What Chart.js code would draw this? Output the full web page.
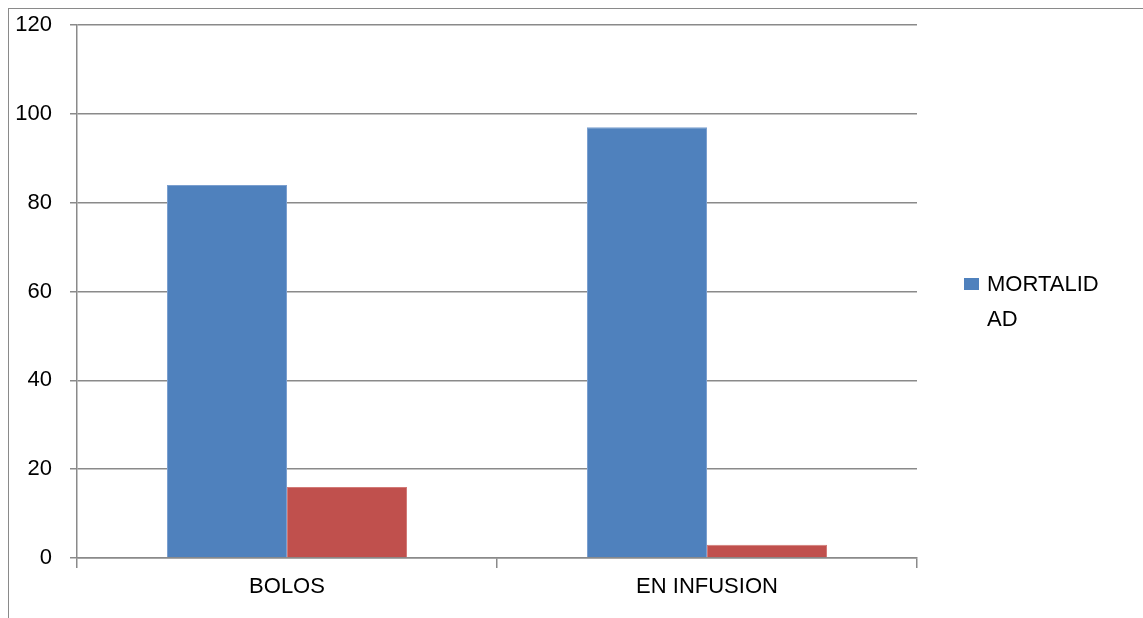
<!DOCTYPE html>
<html lang="es">
  <head>
    <meta charset="UTF-8" />
    <title>Mortalidad</title>
    <script src="https://cdn.jsdelivr.net/npm/chart.js@4.4.1/dist/chart.umd.min.js"></script>
    <style>
      body {
        margin: 0;
        background: #ffffff;
        font-family: "Liberation Sans", Arial, sans-serif;
      }
      #wrap {
        position: relative;
        width: 1143px;
        height: 618px;
        overflow: hidden;
      }
      #frame {
        position: absolute;
        left: 8px;
        top: 8px;
        right: 0;
        bottom: 0;
        border-top: 1.5px solid #8a8a8a;
        border-left: 1.5px solid #8a8a8a;
      }
      canvas {
        position: absolute;
        left: 0;
        top: 0;
      }
      #legend {
        position: absolute;
        left: 964px;
        top: 266px;
        font-size: 22px;
        line-height: 35px;
        color: #000;
      }
      #legend .key {
        position: absolute;
        left: 0;
        top: 12px;
        width: 15px;
        height: 12px;
        background: #4f81bd;
      }
      #legend .txt {
        position: absolute;
        left: 23px;
        top: 0;
        width: 1px;
      }
    </style>
  </head>
  <body>
    <div id="wrap">
      <div id="frame"></div>
      <canvas id="chart" width="1143" height="618"></canvas>
      <div id="legend">
        <span class="key"></span>
        <span class="txt">MORTALID<wbr>AD</span>
      </div>
    </div>

    <script>
      const categories = ["BOLOS", "EN INFUSION"];
      const mortalidad = [84, 97];
      const otros = [16, 3];
      const yTicks = [0, 20, 40, 60, 80, 100, 120];

      const gridColor = "#8a8a8a";
      const font = { family: "'Liberation Sans', Arial, sans-serif", size: 22 };

      const ctx = document.getElementById("chart").getContext("2d");
      new Chart(ctx, {
        type: "bar",
        data: {
          labels: categories,
          datasets: [
            {
              label: "MORTALIDAD",
              data: mortalidad,
              backgroundColor: "#4f81bd",
              borderColor: "#7b9fcf",
              borderWidth: 1,
              categoryPercentage: 240 / 420,
              barPercentage: 1,
            },
            {
              label: "",
              data: otros,
              backgroundColor: "#c0504d",
              borderColor: "#d27a77",
              borderWidth: 1,
              categoryPercentage: 240 / 420,
              barPercentage: 1,
            },
          ],
        },
        options: {
          responsive: false,
          animation: false,
          layout: {
            padding: { left: 0, top: 25, right: 226, bottom: 0 },
          },
          plugins: {
            legend: { display: false },
            tooltip: { enabled: false },
          },
          scales: {
            x: {
              grid: {
                offset: true,
                drawOnChartArea: false,
                tickLength: 10,
                color: gridColor,
                lineWidth: 1.5,
              },
              border: { display: true, color: gridColor, width: 1.5 },
              ticks: { color: "#000", font: font, padding: 6 },
              afterFit: (scale) => {
                scale.height = 60;
                scale.paddingLeft = 0;
                scale.paddingRight = 0;
              },
            },
            y: {
              min: 0,
              max: 120,
              afterBuildTicks: (scale) => {
                scale.ticks = yTicks.map((v) => ({ value: v }));
              },
              grid: {
                tickLength: 7,
                color: gridColor,
                lineWidth: 1.5,
              },
              border: { display: true, color: gridColor, width: 1.5 },
              ticks: { color: "#000", font: font, padding: 18 },
              afterFit: (scale) => {
                scale.width = 77;
                scale.paddingTop = 0;
                scale.paddingBottom = 0;
              },
            },
          },
        },
      });
    </script>
  </body>
</html>
